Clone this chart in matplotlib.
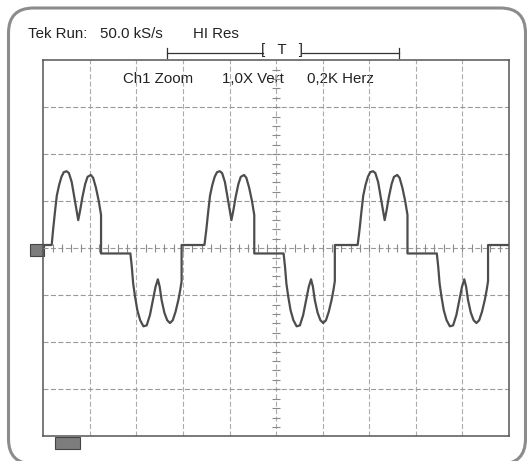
import matplotlib.pyplot as plt
import numpy as np
from matplotlib.patches import FancyBboxPatch, Rectangle

# scope screen: 10 x 8 divisions, trace values in divisions
cycle_y = [0.07, 0.39, 0.77, 1.12, 1.35, 1.52, 1.62, 1.64, 1.60,
           1.41, 1.12, 0.82, 0.60, 0.80, 1.09, 1.37, 1.52, 1.56, 1.50,
           1.29, 1.01, 0.71, -0.11, -0.11, -0.39, -0.75, -1.03, -1.32, -1.53,
           -1.66, -1.64, -1.42, -1.07, -0.82, -0.66, -0.82, -1.10, -1.37, -1.53,
           -1.59, -1.53, -1.35, -1.10, -0.89, -0.70, 0.07]
cycle1_x = [0.18, 0.21, 0.25, 0.29, 0.34, 0.39, 0.44, 0.50, 0.55,
            0.61, 0.66, 0.71, 0.75, 0.79, 0.84, 0.90, 0.95, 1.02, 1.07,
            1.13, 1.19, 1.24, 1.24, 1.87, 1.90, 1.93, 1.97, 2.02, 2.08,
            2.15, 2.22, 2.29, 2.36, 2.41, 2.46, 2.50, 2.54, 2.60, 2.66,
            2.72, 2.78, 2.84, 2.90, 2.94, 2.97, 2.97]
cycle2_x = [3.46, 3.50, 3.54, 3.58, 3.63, 3.68, 3.73, 3.79, 3.84,
            3.90, 3.95, 4.00, 4.04, 4.08, 4.13, 4.19, 4.24, 4.31, 4.36,
            4.42, 4.48, 4.53, 4.53, 5.16, 5.19, 5.22, 5.26, 5.31, 5.37,
            5.44, 5.51, 5.58, 5.65, 5.70, 5.75, 5.79, 5.83, 5.89, 5.95,
            6.01, 6.07, 6.13, 6.19, 6.23, 6.26, 6.26]
cycle3_x = [6.75, 6.79, 6.83, 6.87, 6.92, 6.97, 7.02, 7.08, 7.13,
            7.19, 7.24, 7.29, 7.33, 7.37, 7.42, 7.48, 7.53, 7.60, 7.65,
            7.71, 7.77, 7.82, 7.82, 8.45, 8.48, 8.51, 8.55, 8.60, 8.66,
            8.73, 8.80, 8.87, 8.94, 8.99, 9.04, 9.08, 9.12, 9.18, 9.24,
            9.30, 9.36, 9.42, 9.48, 9.52, 9.55, 9.55]
rest_level = 0.07

header_labels = ['Tek Run:', '50.0 kS/s', 'HI Res']
zoom_labels = ['Ch1 Zoom', '1,0X Vert', '0,2K Herz']

W, H = 527, 461
font = 'Liberation Sans'
fs = 10.8

fig = plt.figure(figsize=(W / 100, H / 100), dpi=100)

# background in pixel coordinates
bg = fig.add_axes([0, 0, 1, 1])
bg.set_xlim(0, W)
bg.set_ylim(H, 0)
bg.axis('off')

frame = FancyBboxPatch((8.5, 8), 517, 456, boxstyle='round,pad=0,rounding_size=25',
                       fc='white', ec='#8c8c8c', lw=2.2)
bg.add_patch(frame)

for lab, x0 in zip(header_labels, [28, 100, 193]):
    bg.text(x0, 37.5, lab, family=font, fontsize=fs, color='#222222', va='baseline')

# trigger bracket
bg.plot([167.3, 263], [53.3, 53.3], color='#333333', lw=0.9)
bg.plot([301.5, 399.3], [53.3, 53.3], color='#333333', lw=0.9)
bg.plot([167.3, 167.3], [48, 58.5], color='#333333', lw=0.9)
bg.plot([399.3, 399.3], [48, 58.5], color='#333333', lw=0.9)
bg.text(282, 54, '[   T   ]', family=font, fontsize=fs, color='#222222',
        ha='center', va='baseline')

# channel / trigger markers
bg.add_patch(Rectangle((29.5, 244), 14, 11.5, fc='#7d7d7d', ec='#444444', lw=0.8))
bg.add_patch(Rectangle((55, 437), 25, 12, fc='#7d7d7d', ec='#444444', lw=0.8))

# scope screen
ax = fig.add_axes([43.3 / W, (H - 436.3) / H, 465.7 / W, 376 / H])
ax.set_xlim(0, 10)
ax.set_ylim(-4, 4)
ax.set_xticks([])
ax.set_yticks([])
for s in ax.spines.values():
    s.set_color('#555555')
    s.set_linewidth(1.1)

for gx in range(1, 10):
    ax.axvline(gx, color='#ababab', lw=0.8, dashes=(4.5, 2.2), zorder=1)
for gy in range(-3, 4):
    ax.axhline(gy, color='#999999', lw=0.8, dashes=(4.5, 2.2), zorder=1)

# small ticks on the centre axes
tx = np.arange(0.2, 10, 0.2)
ax.vlines(tx, -0.085, 0.085, color='#8a8a8a', lw=0.8, zorder=1)
ty = np.arange(-3.8, 4, 0.2)
ax.hlines(ty, 4.915, 5.085, color='#8a8a8a', lw=0.8, zorder=1)

for lab, x0 in zip(zoom_labels, [123.3, 221.7, 306.7]):
    bg.text(x0, 82.7, lab, family=font, fontsize=fs, color='#222222',
            va='baseline', zorder=5)
bg.set_zorder(0)
ax.set_zorder(1)
ax.patch.set_alpha(0)

trace_x = [0.0] + cycle1_x + cycle2_x + cycle3_x + [10.0]
trace_y = [rest_level] + cycle_y * 3 + [rest_level]
ax.plot(trace_x, trace_y, color='#4d4d4d', lw=1.6, zorder=3,
        solid_joinstyle='round')

fig.savefig('out.png', dpi=100)
